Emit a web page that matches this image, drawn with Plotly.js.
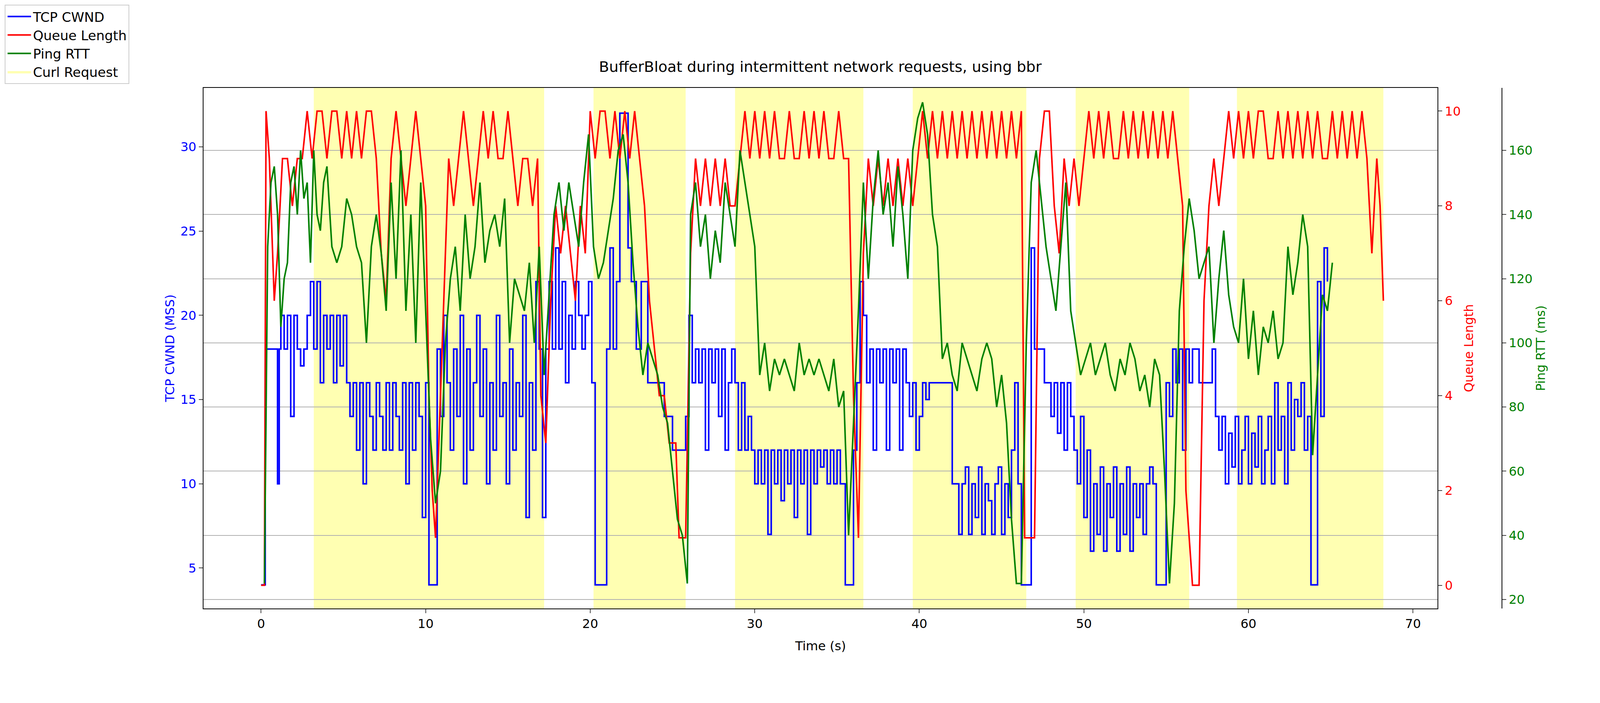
<!DOCTYPE html>
<html><head><meta charset="utf-8">
<script src="https://cdn.plot.ly/plotly-3.0.1.min.js"></script>
<style>body{margin:0;background:#fff}</style></head>
<body><div id="plot" style="width:4200px;height:1800px"></div>
<script>
// TCP CWND (MSS): [time, value]
const cwnd = [[0,4],[0.25,18],[1.0,10],[1.1,18],[1.2,20],[1.4,18],[1.6,20],[1.8,14],[2.0,20],[2.2,18],[2.4,17],[2.6,18],[2.8,20],[3.0,22],[3.2,18],[3.4,22],[3.6,16],[3.8,20],[4.0,18],[4.2,20],[4.4,16],[4.6,20],[4.8,17],[5.0,20],[5.2,16],[5.4,14],[5.6,16],[5.8,12],[6.0,16],[6.2,10],[6.4,16],[6.6,14],[6.8,12],[7.0,16],[7.2,14],[7.4,12],[7.6,16],[7.8,12],[8.0,16],[8.2,14],[8.4,12],[8.6,16],[8.8,10],[9.0,16],[9.2,12],[9.4,16],[9.6,14],[9.8,8],[10.0,16],[10.2,4],[10.7,18],[10.9,14],[11.1,20],[11.3,16],[11.5,12],[11.7,18],[11.9,14],[12.1,20],[12.3,10],[12.5,18],[12.7,12],[12.9,16],[13.1,20],[13.3,14],[13.5,18],[13.7,10],[13.9,16],[14.1,12],[14.3,20],[14.5,14],[14.7,16],[14.9,10],[15.1,18],[15.3,12],[15.5,16],[15.7,14],[15.9,20],[16.1,8],[16.3,16],[16.5,12],[16.7,22],[16.9,18],[17.1,8],[17.3,18],[17.5,22],[17.7,18],[17.9,24],[18.1,18],[18.3,22],[18.5,16],[18.7,20],[18.9,18],[19.1,22],[19.3,20],[19.5,18],[19.7,20],[19.9,22],[20.1,16],[20.3,4],[21.0,18],[21.2,24],[21.4,18],[21.6,22],[21.8,32],[22.3,24],[22.5,22],[22.8,18],[23.1,22],[23.5,16],[24.5,14],[25.0,12],[25.8,14],[26.0,20],[26.2,16],[26.4,18],[26.6,16],[26.8,18],[27.0,12],[27.2,18],[27.4,16],[27.6,18],[27.8,14],[28.0,18],[28.2,12],[28.4,16],[28.6,18],[28.8,16],[29.0,12],[29.2,16],[29.4,12],[29.6,14],[29.8,12],[30.0,10],[30.2,12],[30.4,10],[30.6,12],[30.8,7],[31.0,12],[31.2,10],[31.4,12],[31.6,9],[31.8,12],[32.0,10],[32.2,12],[32.4,8],[32.6,12],[32.8,10],[33.0,12],[33.2,7],[33.4,12],[33.6,10],[33.8,12],[34.0,11],[34.2,12],[34.4,10],[34.6,12],[34.8,10],[35.0,12],[35.2,10],[35.5,4],[36.0,12],[36.2,16],[36.4,22],[36.6,20],[36.8,16],[37.0,18],[37.2,12],[37.4,18],[37.6,16],[37.8,18],[38.0,12],[38.2,18],[38.4,16],[38.6,18],[38.8,12],[39.0,18],[39.2,16],[39.4,14],[39.6,16],[39.8,12],[40.0,14],[40.2,16],[40.4,15],[40.6,16],[41.0,16],[41.6,16],[42.0,10],[42.4,7],[42.6,10],[42.8,11],[43.0,7],[43.2,10],[43.4,8],[43.6,11],[43.8,7],[44.0,10],[44.2,9],[44.4,7],[44.6,10],[44.8,11],[45.0,7],[45.2,10],[45.4,8],[45.6,12],[45.8,16],[46.0,10],[46.2,4],[46.8,24],[47.0,18],[47.3,18],[47.6,16],[48.0,14],[48.2,16],[48.4,13],[48.6,16],[48.8,12],[49.0,16],[49.2,14],[49.4,12],[49.6,10],[49.8,14],[50.0,8],[50.2,12],[50.4,6],[50.6,10],[50.8,7],[51.0,11],[51.2,6],[51.4,10],[51.6,8],[51.8,11],[52.0,6],[52.2,10],[52.4,7],[52.6,11],[52.8,6],[53.0,10],[53.2,8],[53.4,10],[53.6,7],[53.8,10],[54.0,11],[54.2,10],[54.4,4],[55.0,16],[55.2,14],[55.4,18],[55.6,16],[55.8,18],[56.0,12],[56.2,18],[56.4,16],[56.6,18],[57.0,16],[57.6,16],[57.8,18],[58.0,14],[58.2,12],[58.4,14],[58.6,10],[58.8,13],[59.0,11],[59.2,14],[59.4,10],[59.6,12],[59.8,14],[60.0,10],[60.2,13],[60.4,11],[60.6,14],[60.8,10],[61.0,12],[61.2,14],[61.4,10],[61.6,16],[61.8,12],[62.0,14],[62.2,10],[62.4,16],[62.6,12],[62.8,15],[63.0,14],[63.2,16],[63.4,12],[63.6,14],[63.8,4],[64.2,22],[64.4,14],[64.6,24],[64.8,22]];

// Queue Length: [time, value]
const queue = [[0,0],[0.2,0],[0.3,10],[0.5,9],[0.8,6],[1.0,7],[1.3,9],[1.6,9],[1.9,8],[2.2,9],[2.5,9],[2.8,10],[3.1,9],[3.4,10],[3.7,10],[4.0,9],[4.3,10],[4.6,10],[4.9,9],[5.2,10],[5.5,9],[5.8,10],[6.1,9],[6.4,10],[6.7,10],[7.0,9],[7.3,7],[7.6,6],[7.9,9],[8.2,10],[8.5,9],[8.8,8],[9.1,9],[9.4,10],[9.7,9],[10.0,8],[10.2,4],[10.4,2],[10.6,1],[10.8,3],[11.1,6],[11.4,9],[11.7,8],[12.0,9],[12.3,10],[12.6,9],[12.9,8],[13.2,9],[13.5,10],[13.8,9],[14.1,10],[14.4,9],[14.7,9],[15.0,10],[15.3,9],[15.6,8],[15.9,9],[16.2,9],[16.5,8],[16.8,9],[17.0,4],[17.3,3],[17.6,6],[17.9,8],[18.2,7],[18.5,8],[18.8,7],[19.1,6],[19.4,8],[19.7,7],[20.0,10],[20.3,9],[20.6,10],[20.9,10],[21.2,9],[21.5,10],[21.8,9],[22.1,10],[22.4,9],[22.7,10],[23.0,9],[23.3,8],[23.6,6],[23.9,5],[24.2,4],[24.5,4],[24.8,3],[25.2,3],[25.4,1],[25.8,1],[26.1,7],[26.4,9],[26.7,8],[27.0,9],[27.3,8],[27.6,9],[27.9,8],[28.2,9],[28.5,8],[28.8,8],[29.1,9],[29.4,10],[29.7,9],[30.0,10],[30.3,9],[30.6,10],[30.9,9],[31.2,10],[31.5,9],[31.8,9],[32.1,10],[32.4,9],[32.7,9],[33.0,10],[33.3,9],[33.6,10],[33.9,9],[34.2,10],[34.5,9],[34.8,9],[35.1,10],[35.4,9],[35.7,9],[36.0,4],[36.3,1],[36.6,7],[36.9,9],[37.2,8],[37.5,9],[37.8,8],[38.1,9],[38.4,8],[38.7,9],[39.0,8],[39.3,9],[39.6,8],[39.9,9],[40.2,10],[40.5,9],[40.8,10],[41.1,9],[41.4,10],[41.7,9],[42.0,10],[42.3,9],[42.6,10],[42.9,9],[43.2,10],[43.5,9],[43.8,10],[44.1,9],[44.4,10],[44.7,9],[45.0,10],[45.3,9],[45.6,10],[45.9,9],[46.2,10],[46.4,1],[47.0,1],[47.3,9],[47.6,10],[47.9,10],[48.2,8],[48.5,7],[48.8,9],[49.1,8],[49.4,9],[49.7,8],[50.0,9],[50.3,10],[50.6,9],[50.9,10],[51.2,9],[51.5,10],[51.8,9],[52.1,9],[52.4,10],[52.7,9],[53.0,10],[53.3,9],[53.6,10],[53.9,9],[54.2,10],[54.5,9],[54.8,10],[55.1,9],[55.4,10],[55.7,9],[56.0,8],[56.2,2],[56.6,0],[57.0,0],[57.3,6],[57.6,8],[57.9,9],[58.2,8],[58.5,9],[58.8,10],[59.1,9],[59.4,10],[59.7,9],[60.0,10],[60.3,9],[60.6,10],[60.9,10],[61.2,9],[61.5,9],[61.8,10],[62.1,9],[62.4,10],[62.7,9],[63.0,10],[63.3,9],[63.6,10],[63.9,9],[64.2,10],[64.5,9],[64.8,9],[65.1,10],[65.4,9],[65.7,10],[66.0,9],[66.3,10],[66.6,9],[66.9,10],[67.2,9],[67.5,7],[67.8,9],[68.0,8],[68.2,6]];

// Ping RTT (ms): [time, value]
const ping = [[0.2,25],[0.4,130],[0.6,150],[0.8,155],[1.0,140],[1.2,105],[1.4,120],[1.6,125],[1.8,150],[2.0,155],[2.2,140],[2.4,160],[2.6,145],[2.8,150],[3.0,125],[3.2,160],[3.4,140],[3.6,135],[3.8,150],[4.0,155],[4.3,130],[4.6,125],[4.9,130],[5.2,145],[5.5,140],[5.8,130],[6.1,125],[6.4,100],[6.7,130],[7.0,140],[7.3,128],[7.6,110],[7.9,150],[8.2,120],[8.5,160],[8.8,110],[9.1,140],[9.4,100],[9.7,150],[10.0,110],[10.3,70],[10.6,50],[10.9,60],[11.2,100],[11.5,120],[11.8,130],[12.1,110],[12.4,140],[12.7,120],[13.0,130],[13.3,150],[13.6,125],[13.9,135],[14.2,140],[14.5,130],[14.8,145],[15.1,100],[15.4,120],[15.7,115],[16.0,110],[16.3,125],[16.6,100],[16.9,130],[17.2,90],[17.5,115],[17.8,140],[18.1,150],[18.4,135],[18.7,150],[19.0,140],[19.3,130],[19.6,150],[19.9,165],[20.2,130],[20.5,120],[20.8,125],[21.1,135],[21.4,145],[21.7,160],[22.0,165],[22.3,150],[22.6,125],[22.9,105],[23.2,90],[23.5,100],[23.8,95],[24.1,90],[24.4,80],[24.7,75],[25.0,60],[25.3,45],[25.6,40],[25.9,25],[26.1,140],[26.4,150],[26.7,130],[27.0,140],[27.3,120],[27.6,135],[27.9,125],[28.2,150],[28.5,140],[28.8,130],[29.1,160],[29.4,150],[29.7,140],[30.0,130],[30.3,90],[30.6,100],[30.9,85],[31.2,95],[31.5,90],[31.8,95],[32.1,90],[32.4,85],[32.7,100],[33.0,90],[33.3,95],[33.6,90],[33.9,95],[34.2,90],[34.5,85],[34.8,95],[35.1,80],[35.4,85],[35.7,40],[36.0,75],[36.3,110],[36.6,150],[36.9,120],[37.2,145],[37.5,160],[37.8,140],[38.1,150],[38.4,130],[38.7,155],[39.0,140],[39.3,120],[39.6,160],[39.9,170],[40.2,175],[40.5,165],[40.8,140],[41.1,130],[41.4,95],[41.7,100],[42.0,90],[42.3,85],[42.6,100],[42.9,95],[43.2,90],[43.5,85],[43.8,95],[44.1,100],[44.4,95],[44.7,80],[45.0,90],[45.3,75],[45.6,45],[45.9,25],[46.2,25],[46.5,100],[46.8,150],[47.1,160],[47.4,145],[47.7,130],[48.0,120],[48.3,110],[48.6,130],[48.9,150],[49.2,110],[49.5,100],[49.8,90],[50.1,95],[50.4,100],[50.7,90],[51.0,95],[51.3,100],[51.6,90],[51.9,85],[52.2,95],[52.5,90],[52.8,100],[53.1,95],[53.4,85],[53.7,90],[54.0,80],[54.3,95],[54.6,90],[54.9,60],[55.2,25],[55.5,50],[55.8,110],[56.1,130],[56.4,145],[56.7,135],[57.0,120],[57.3,125],[57.6,130],[57.9,100],[58.2,120],[58.5,135],[58.8,115],[59.1,105],[59.4,100],[59.7,120],[60.0,95],[60.3,110],[60.6,90],[60.9,105],[61.2,100],[61.5,110],[61.8,95],[62.1,100],[62.4,130],[62.7,115],[63.0,125],[63.3,140],[63.6,130],[63.9,65],[64.2,90],[64.5,115],[64.8,110],[65.1,125]];

const curlStart = [3.2,20.2,28.8,39.6,49.5,59.3];
const curlEnd   = [17.2,25.8,36.6,46.5,56.4,68.2];

const FS = 32;
const shapes = curlStart.map((s,i)=>({type:'rect',xref:'x',yref:'paper',x0:s,x1:curlEnd[i],y0:0,y1:1,fillcolor:'rgba(255,255,0,0.3)',line:{width:0},layer:'below'}));

const traces = [
 {x:cwnd.map(p=>p[0]),y:cwnd.map(p=>p[1]),name:'TCP CWND',mode:'lines',line:{color:'blue',width:4,shape:'hv'},yaxis:'y'},
 {x:queue.map(p=>p[0]),y:queue.map(p=>p[1]),name:'Queue Length',mode:'lines',line:{color:'red',width:4},yaxis:'y2'},
 {x:ping.map(p=>p[0]),y:ping.map(p=>p[1]),name:'Ping RTT',mode:'lines',line:{color:'green',width:4},yaxis:'y3'},
 {x:[null],y:[null],name:'Curl Request',mode:'lines',fill:'toself',fillcolor:'rgba(255,255,0,0.3)',line:{width:0},yaxis:'y'}
];

const layout = {
 width:4200,height:1800,paper_bgcolor:'#fff',plot_bgcolor:'rgba(0,0,0,0)',
 font:{family:'DejaVu Sans',size:FS,color:'#000'},
 margin:{l:514,r:355,t:209,b:242},
 title:{text:'BufferBloat during intermittent network requests, using bbr',font:{size:38},xref:'paper',x:0.475,xanchor:'center',yref:'container',y:0.905,yanchor:'middle'},
 showlegend:true,
 legend:{x:-0.153,y:1.16,xanchor:'left',yanchor:'top',bordercolor:'#ccc',borderwidth:2,bgcolor:'#fff',font:{size:34},tracegroupgap:0,itemwidth:60,traceorder:'normal'},
 xaxis:{domain:[0,0.9505],range:[-3.5,71.5],tickvals:[0,10,20,30,40,50,60,70],showgrid:false,zeroline:false,showline:true,mirror:true,linecolor:'#000',linewidth:2,ticks:'outside',ticklen:10,tickwidth:2,title:{text:'Time (s)',font:{size:FS}}},
 yaxis:{range:[2.6,33.5],tickvals:[5,10,15,20,25,30],showgrid:false,zeroline:false,showline:true,linecolor:'#000',linewidth:2,ticks:'outside',ticklen:10,tickwidth:2,tickfont:{color:'blue',size:FS},title:{text:'TCP CWND (MSS)',font:{color:'blue',size:FS}}},
 yaxis2:{overlaying:'y',side:'right',anchor:'x',range:[-0.49,10.49],tickvals:[0,2,4,6,8,10],showgrid:false,zeroline:false,showline:true,linecolor:'#000',linewidth:2,ticks:'outside',ticklen:10,tickwidth:2,tickfont:{color:'red',size:FS},title:{text:'Queue Length',font:{color:'red',size:FS}}},
 yaxis3:{overlaying:'y',side:'right',anchor:'free',position:1,range:[17.2,179.5],tickvals:[20,40,60,80,100,120,140,160],showgrid:true,gridcolor:'#b0b0b0',gridwidth:2,zeroline:false,showline:true,linecolor:'#000',linewidth:2,ticks:'outside',ticklen:10,tickwidth:2,tickfont:{color:'green',size:FS},title:{text:'Ping RTT (ms)',font:{color:'green',size:FS}}},
 shapes:shapes
};
Plotly.newPlot('plot',traces,layout,{displayModeBar:false});
</script></body></html>
